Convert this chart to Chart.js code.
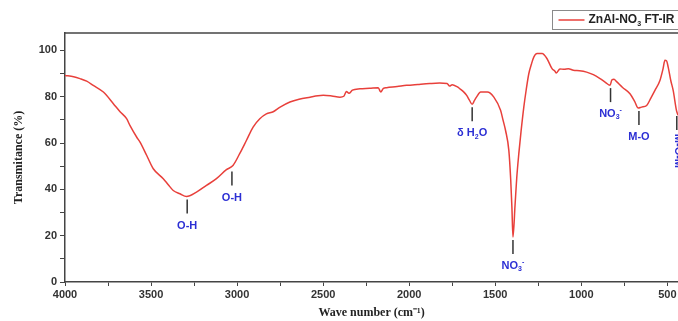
<!DOCTYPE html>
<html>
<head>
<meta charset="utf-8">
<script src="https://cdn.jsdelivr.net/npm/chart.js@4.4.1/dist/chart.umd.min.js"></script>
<style>
  body { margin: 0; background: #fff; overflow: hidden; }
  #wrap { width: 678px; height: 321px; position: relative; }
</style>
</head>
<body>
<div id="wrap"><canvas id="chart-ftir"></canvas></div>
<script>
// spectrum (wave number cm-1, transmittance %)
const waveNumbers = [
  4000, 3950, 3913, 3874, 3836, 3777, 3719, 3680, 3642, 3622, 3583, 3564, 3525, 3487, 3429, 3400, 3371, 3332,
  3294, 3236, 3178, 3120, 3062, 3024, 2985, 2946, 2907, 2868, 2830, 2790, 2750,
  2693, 2640, 2576, 2530, 2499, 2450, 2402, 2380, 2365, 2350, 2330, 2286, 2230, 2180, 2165, 2150, 2131, 2070,
  2015, 1950, 1880, 1823, 1780, 1765, 1750, 1720, 1705, 1685, 1666, 1650, 1634, 1620, 1609, 1585, 1546,
  1508, 1469, 1455, 1440, 1421, 1410, 1403, 1397, 1385, 1375, 1363, 1350, 1334, 1320, 1305, 1290, 1276, 1257,
  1228, 1199, 1170, 1153, 1145, 1124, 1100, 1075, 1046, 1010, 969, 930, 891, 860, 833, 822, 810,
  795, 760, 717, 690, 669, 650, 620, 595, 572, 543, 525, 514, 505, 495, 480, 466, 447, 438
];
const transmittance = [
  89.2, 88.6, 87.8, 86.7, 84.9, 82.0, 77.0, 73.5, 70.5, 67.5, 62.5, 60.4, 54.6, 48.9, 44.6, 42.0, 39.5, 38.1,
  36.9, 38.8, 41.7, 44.6, 48.5, 50.3, 55.4, 61.1, 66.9, 70.5, 72.6, 73.5, 75.5,
  77.7, 78.9, 79.8, 80.4, 80.6, 80.3, 79.8, 80.2, 82.2, 81.5, 82.8, 83.4, 83.6, 83.9, 82.0, 83.6, 83.9, 84.4,
  84.9, 85.3, 85.7, 85.9, 85.7, 84.6, 85.2, 84.2, 83.4, 82.2, 80.6, 78.5, 76.7, 78.5, 79.8, 82.0, 82.0,
  79.8, 74.1, 70.0, 65.4, 56.8, 44.0, 32.0, 19.4, 33.0, 45.0, 55.4, 65.0, 75.5, 83.0, 89.9, 94.0, 97.1, 98.6,
  98.6, 96.4, 92.1, 91.0, 90.2, 92.0, 91.8, 92.1, 91.4, 91.2, 90.6, 89.5, 87.8, 86.2, 84.9, 87.3, 87.5,
  86.5, 84.0, 81.3, 78.0, 75.1, 75.5, 76.2, 79.5, 82.7, 87.0, 92.0, 95.7, 95.5, 92.8, 87.0, 82.7, 74.1, 72.0
];

// band assignments ( _x = subscript, ^x = superscript )
const markerWaves  = [3290, 3030, 1634, 1397, 830, 665, 445];
const markerValues = [36.9, 49.0, 76.7, 19.4, 85.0, 75.1, 73.0];
const markerLabels = ['O-H', 'O-H', 'δ H_2O', 'NO_3^-', 'NO_3^-', 'M-O', 'M-O-M'];

const xTicks = [4000, 3750, 3500, 3250, 3000, 2750, 2500, 2250, 2000, 1750, 1500, 1250, 1000, 750, 500];
const yTicks = [0, 10, 20, 30, 40, 50, 60, 70, 80, 90, 100];

const seriesLabel = 'ZnAl-NO_3 FT-IR';
const lineColor = '#e8403b';
const markBlue = '#2c2fd4';
const axisColor = '#444';

// draw text with simple sub / superscripts, centred on x
function richParts(str) {
  const parts = [];
  for (let i = 0; i < str.length; i++) {
    const c = str[i];
    if ((c === '_' || c === '^') && i + 1 < str.length) {
      parts.push({ t: str[i + 1], kind: c === '_' ? 'sub' : 'sup' });
      i++;
    } else {
      const last = parts[parts.length - 1];
      if (last && last.kind === 'base') last.t += c;
      else parts.push({ t: c, kind: 'base' });
    }
  }
  return parts;
}

function drawRich(ctx, str, x, y, size, align) {
  const parts = richParts(str);
  const big = 'bold ' + size + 'px Arial, "Liberation Sans", sans-serif';
  const small = 'bold ' + Math.round(size * 0.62) + 'px Arial, "Liberation Sans", sans-serif';
  let total = 0;
  parts.forEach(p => {
    ctx.font = p.kind === 'base' ? big : small;
    p.w = ctx.measureText(p.t).width;
    total += p.w;
  });
  let cx = align === 'left' ? x : x - total / 2;
  ctx.textAlign = 'left';
  ctx.textBaseline = 'middle';
  parts.forEach(p => {
    ctx.font = p.kind === 'base' ? big : small;
    let dy = 0;
    if (p.kind === 'sub') dy = size * 0.3;
    if (p.kind === 'sup') dy = -size * 0.35;
    ctx.fillText(p.t, cx, y + dy);
    cx += p.w;
  });
}

const extras = {
  id: 'extras',
  afterDraw(chart) {
    const ctx = chart.ctx;
    const area = chart.chartArea;
    const xs = chart.scales.x, ys = chart.scales.y;
    ctx.save();

    // top frame line
    ctx.strokeStyle = axisColor;
    ctx.lineWidth = 1.5;
    ctx.beginPath();
    ctx.moveTo(area.left, area.top);
    ctx.lineTo(chart.width, area.top);
    ctx.stroke();

    // band markers
    markerWaves.forEach((w, i) => {
      const px = xs.getPixelForValue(w);
      const py = ys.getPixelForValue(markerValues[i]);
      ctx.strokeStyle = '#333';
      ctx.lineWidth = 1.5;
      ctx.beginPath();
      ctx.moveTo(px, py + 3);
      ctx.lineTo(px, py + 17);
      ctx.stroke();
      ctx.fillStyle = markBlue;
      if (markerLabels[i] === 'M-O-M') {
        ctx.save();
        ctx.translate(px + 1, py + 38);
        ctx.rotate(Math.PI / 2);
        drawRich(ctx, markerLabels[i], 0, 0, 11, 'center');
        ctx.restore();
      } else {
        drawRich(ctx, markerLabels[i], px, py + 29, 11, 'center');
      }
    });

    // legend box (runs off the right edge like the original)
    const lx = chart.width - 125.5, ly = area.top - 22.5;
    ctx.strokeStyle = '#8a8a8a';
    ctx.lineWidth = 1;
    ctx.strokeRect(lx, ly, 200, 19);
    ctx.strokeStyle = lineColor;
    ctx.lineWidth = 1.5;
    ctx.beginPath();
    ctx.moveTo(lx + 6, ly + 9.5);
    ctx.lineTo(lx + 32, ly + 9.5);
    ctx.stroke();
    ctx.fillStyle = '#222';
    drawRich(ctx, seriesLabel, lx + 36, ly + 9.5, 12, 'left');

    ctx.restore();
  }
};

const ctx = document.getElementById('chart-ftir').getContext('2d');
const ftirChart = new Chart(ctx, {
  type: 'line',
  data: {
    datasets: [{
      label: seriesLabel,
      data: waveNumbers.map((w, i) => ({ x: w, y: transmittance[i] })),
      borderColor: lineColor,
      borderWidth: 1.5,
      pointRadius: 0,
      cubicInterpolationMode: 'monotone',
      fill: false
    }]
  },
  options: {
    responsive: true,
    maintainAspectRatio: false,
    animation: false,
    layout: { padding: { top: 33, left: 0, right: 0, bottom: 0 } },
    plugins: {
      legend: { display: false },
      tooltip: { enabled: false }
    },
    scales: {
      x: {
        type: 'linear',
        reverse: true,
        min: 438,
        max: 4000,
        afterBuildTicks: scale => { scale.ticks = xTicks.map(v => ({ value: v })); },
        afterFit: scale => { scale.height = 39; scale.paddingLeft = 0; scale.paddingRight = 0; },
        ticks: {
          autoSkip: false,
          maxRotation: 0,
          padding: 2,
          color: '#333',
          font: { family: 'Arial, "Liberation Sans", sans-serif', size: 11, weight: 'bold' },
          callback: v => (v % 500 === 0 ? v : '')
        },
        grid: { drawOnChartArea: false, tickLength: 4, color: axisColor, lineWidth: 1 },
        border: { color: axisColor, width: 1.5 },
        title: {
          display: true,
          text: 'Wave number (cm⁻¹)',
          color: '#222',
          font: { family: '"Liberation Serif", "Times New Roman", serif', size: 12, weight: 'bold' },
          padding: { top: 0, bottom: 1 }
        }
      },
      y: {
        min: 0,
        max: 107.5,
        afterBuildTicks: scale => { scale.ticks = yTicks.map(v => ({ value: v })); },
        afterFit: scale => { scale.width = 65; },
        ticks: {
          padding: 3,
          color: '#333',
          font: { family: 'Arial, "Liberation Sans", sans-serif', size: 11, weight: 'bold' },
          callback: v => (v % 20 === 0 ? v : '')
        },
        grid: { drawOnChartArea: false, tickLength: 5, color: axisColor, lineWidth: 1 },
        border: { color: axisColor, width: 1.5 },
        title: {
          display: true,
          text: 'Transmitance (%)',
          color: '#222',
          font: { family: '"Liberation Serif", "Times New Roman", serif', size: 12, weight: 'bold' },
          padding: { top: 12, bottom: 0 }
        }
      }
    }
  },
  plugins: [extras]
});
</script>
</body>
</html>
